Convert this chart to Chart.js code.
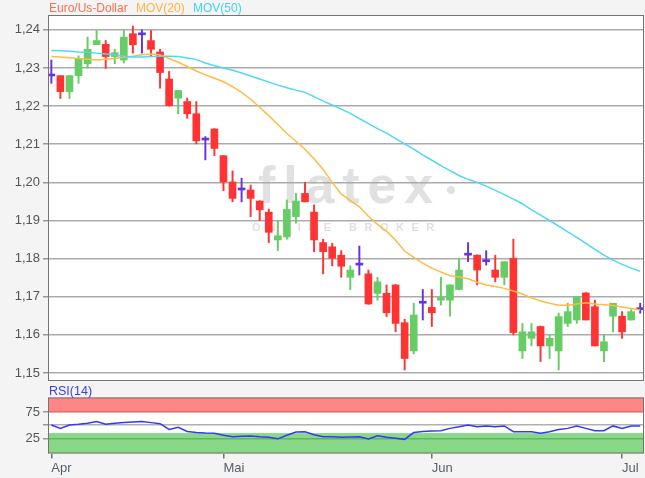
<!DOCTYPE html>
<html>
<head>
<meta charset="utf-8">
<script src="https://cdn.jsdelivr.net/npm/chart.js@4.4.1/dist/chart.umd.min.js"></script>
<style>
  html, body { margin: 0; padding: 0; background: #f4f4f4; }
  #wrap { position: relative; width: 645px; height: 478px; overflow: hidden; font-family: "Liberation Sans", Arial, sans-serif; }
  #mainBox { position: absolute; left: 0; top: 0; width: 645px; height: 395px; }
  #rsiBox { position: absolute; left: 0; top: 384px; width: 645px; height: 94px; }
  .lbl { position: absolute; font-size: 12px; white-space: nowrap; z-index: 2; }
</style>
</head>
<body>
<div id="wrap">
  <div id="mainBox"><canvas id="priceChart"></canvas></div>
  <div id="rsiBox"><canvas id="rsiChart"></canvas></div>
  <div class="lbl" style="left:49px;top:1px;color:#ff6e50">Euro/Us-Dollar</div>
  <div class="lbl" style="left:136px;top:1px;color:#ffb63a">MOV(20)</div>
  <div class="lbl" style="left:193px;top:1px;color:#3fd4f2">MOV(50)</div>
  <div class="lbl" style="left:49px;top:384px;color:#3b3bf0;font-size:12.5px">RSI(14)</div>
</div>
<script>
// Tageskerzen Apr - Jul (Index = Handelstag)
const monthTicks = [0, 19, 42, 63];
const monthNames = ['Apr', 'Mai', 'Jun', 'Jul'];
const priceTicks = [1.15, 1.16, 1.17, 1.18, 1.19, 1.20, 1.21, 1.22, 1.23, 1.24];
const rsiTicks = [25, 50, 75];

const open = [1.2279, 1.2280, 1.2238, 1.2280, 1.2311, 1.2361, 1.2362, 1.2330, 1.2321, 1.2390,
  1.2387, 1.2372, 1.2342, 1.2271, 1.2221, 1.2212, 1.2180, 1.2111, 1.2140, 1.2070,
  1.2001, 1.1980, 1.1980, 1.1951, 1.1922, 1.1849, 1.1857, 1.1910, 1.1971, 1.1922,
  1.1842, 1.1831, 1.1809, 1.1751, 1.1783, 1.1760, 1.1709, 1.1709, 1.1731, 1.1632,
  1.1558, 1.1683, 1.1672, 1.1691, 1.1691, 1.1719, 1.1809, 1.1809, 1.1792, 1.1770,
  1.1751, 1.1801, 1.1558, 1.1591, 1.1622, 1.1571, 1.1558, 1.1630, 1.1639, 1.1710,
  1.1674, 1.1558, 1.1649, 1.1649, 1.1639, 1.1666];
const high = [1.2321, 1.2280, 1.2280, 1.2332, 1.2381, 1.2398, 1.2372, 1.2349, 1.2400, 1.2410,
  1.2400, 1.2398, 1.2349, 1.2291, 1.2241, 1.2221, 1.2212, 1.2120, 1.2141, 1.2071,
  1.2030, 1.2011, 1.1993, 1.1952, 1.1930, 1.1900, 1.1954, 1.1971, 1.2000, 1.1941,
  1.1851, 1.1840, 1.1821, 1.1781, 1.1833, 1.1770, 1.1751, 1.1731, 1.1732, 1.1641,
  1.1683, 1.1719, 1.1719, 1.1751, 1.1731, 1.1801, 1.1842, 1.1810, 1.1821, 1.1809,
  1.1792, 1.1851, 1.1630, 1.1630, 1.1623, 1.1600, 1.1657, 1.1683, 1.1700, 1.1711,
  1.1691, 1.1600, 1.1683, 1.1661, 1.1666, 1.1683];
const low = [1.2260, 1.2220, 1.2220, 1.2260, 1.2300, 1.2361, 1.2299, 1.2311, 1.2313, 1.2339,
  1.2339, 1.2330, 1.2247, 1.2200, 1.2180, 1.2168, 1.2101, 1.2059, 1.2070, 1.1978,
  1.1949, 1.1949, 1.1910, 1.1900, 1.1842, 1.1821, 1.1851, 1.1893, 1.1949, 1.1818,
  1.1760, 1.1781, 1.1751, 1.1719, 1.1757, 1.1680, 1.1691, 1.1648, 1.1608, 1.1508,
  1.1550, 1.1639, 1.1622, 1.1678, 1.1649, 1.1718, 1.1792, 1.1731, 1.1783, 1.1739,
  1.1731, 1.1600, 1.1538, 1.1571, 1.1530, 1.1538, 1.1508, 1.1622, 1.1630, 1.1639,
  1.1571, 1.1530, 1.1608, 1.1591, 1.1639, 1.1657];
const close = [1.2279, 1.2238, 1.2280, 1.2324, 1.2349, 1.2372, 1.2330, 1.2340, 1.2381, 1.2361,
  1.2387, 1.2349, 1.2288, 1.2201, 1.2241, 1.2180, 1.2109, 1.2111, 1.2089, 1.2001,
  1.1958, 1.1980, 1.1958, 1.1928, 1.1869, 1.1860, 1.1929, 1.1951, 1.1949, 1.1849,
  1.1818, 1.1801, 1.1780, 1.1770, 1.1783, 1.1681, 1.1739, 1.1658, 1.1630, 1.1538,
  1.1652, 1.1683, 1.1658, 1.1698, 1.1731, 1.1770, 1.1809, 1.1770, 1.1792, 1.1751,
  1.1792, 1.1606, 1.1608, 1.1608, 1.1571, 1.1591, 1.1648, 1.1661, 1.1700, 1.1639,
  1.1571, 1.1582, 1.1683, 1.1608, 1.1661, 1.1666];

const mov20 = [1.2330, 1.2329, 1.2327, 1.2325, 1.2323, 1.2321, 1.2323, 1.2325, 1.2328, 1.2331,
  1.2335, 1.2337, 1.2334, 1.2325, 1.2315, 1.2304, 1.2292, 1.2282, 1.2273, 1.2264,
  1.2251, 1.2236, 1.2218, 1.2197, 1.2175, 1.2152, 1.2128, 1.2108, 1.2087, 1.2062,
  1.2034, 1.2000, 1.1969, 1.1953, 1.1936, 1.1911, 1.1890, 1.1872, 1.1848, 1.1820,
  1.1803, 1.1788, 1.1775, 1.1765, 1.1755, 1.1752, 1.1747, 1.1738, 1.1731, 1.1727,
  1.1722, 1.1715, 1.1707, 1.1697, 1.1689, 1.1683, 1.1678, 1.1678, 1.1681, 1.1684,
  1.1681, 1.1679, 1.1677, 1.1673, 1.1669, 1.1665];
const mov50 = [1.2346, 1.2345, 1.2344, 1.2342, 1.2341, 1.2339, 1.2337, 1.2334, 1.2331, 1.2329,
  1.2329, 1.2330, 1.2331, 1.2331, 1.2330, 1.2326, 1.2322, 1.2313, 1.2306, 1.2300,
  1.2294, 1.2287, 1.2279, 1.2271, 1.2263, 1.2255, 1.2248, 1.2242, 1.2236, 1.2225,
  1.2213, 1.2203, 1.2192, 1.2181, 1.2167, 1.2154, 1.2141, 1.2129, 1.2115, 1.2101,
  1.2087, 1.2072, 1.2058, 1.2044, 1.2031, 1.2018, 1.2008, 1.2000, 1.1990, 1.1979,
  1.1968, 1.1956, 1.1944, 1.1928, 1.1914, 1.1900, 1.1885, 1.1870, 1.1856, 1.1840,
  1.1824, 1.1809, 1.1796, 1.1785, 1.1775, 1.1767];
const rsi = [50.6, 44, 50.6, 52, 54, 57, 52, 54, 55, 56,
  57, 55, 53, 42, 46, 38, 36, 35, 34.6, 31,
  28, 29, 29.4, 28, 27, 24, 31, 37, 37.7, 32,
  28, 28, 27, 27.5, 28, 23.7, 30, 27, 25, 23,
  36, 38, 39, 39.6, 44, 47, 50.6, 47, 48.7, 47,
  48.7, 37.7, 37.7, 37.7, 34.6, 37.7, 42, 44, 48.7, 44,
  39.6, 39.6, 48.7, 44, 48.7, 48.7];

const FONT = '"Liberation Sans", Arial, sans-serif';
const RED = '#ff3333', GREEN = '#66cc66', PURPLE = '#6633dd';
const xMin = -0.37, xMax = 65.42;

// Farbe je Kerze: steigend gruen, fallend rot, unveraendert lila
const candleColors = close.map((c, i) => c > open[i] ? GREEN : (c < open[i] ? RED : PURPLE));
const xy = arr => arr.map((v, i) => ({ x: i, y: v }));

// Hintergrund, Baender, Wasserzeichen und Rahmen
const plotFrame = {
  id: 'plotFrame',
  beforeDraw(chart, args, opts) {
    const { ctx, chartArea: a } = chart;
    const y = chart.scales.y;
    ctx.save();
    ctx.fillStyle = '#ffffff';
    ctx.fillRect(a.left, a.top, a.width, a.height);
    (opts.bands || []).forEach(b => {
      const y1 = y.getPixelForValue(b.from);
      const y2 = y.getPixelForValue(b.to);
      ctx.fillStyle = b.color;
      ctx.fillRect(a.left, y2, a.width, y1 - y2);
    });
    if (opts.watermark) {
      ctx.fillStyle = '#e1e1e1';
      ctx.font = 'bold 52px ' + FONT;
      ctx.textBaseline = 'alphabetic';
      const w = ctx.measureText('flatex').width;
      ctx.letterSpacing = ((183 - w) / 6) + 'px';
      ctx.fillText('flatex', 258, 203);
      ctx.beginPath();
      ctx.arc(451, 190, 4, 0, Math.PI * 2);
      ctx.fill();
      ctx.fillStyle = '#e0e0e0';
      ctx.font = 'bold 11px ' + FONT;
      ctx.letterSpacing = '7.5px';
      ctx.fillText('ONLINE BROKER', 252, 231);
    }
    ctx.restore();
  },
  afterDraw(chart) {
    const { ctx, chartArea: a } = chart;
    ctx.save();
    ctx.strokeStyle = '#747474';
    ctx.lineWidth = 1;
    ctx.strokeRect(a.left + 0.5, a.top + 0.5, a.width - 1, a.height - 1);
    ctx.restore();
  }
};

new Chart(document.getElementById('priceChart'), {
  type: 'bar',
  data: {
    datasets: [
      { type: 'line', label: 'MOV(20)', data: xy(mov20), borderColor: '#ffbb44', borderWidth: 1.5, pointRadius: 0, order: 1 },
      { type: 'line', label: 'MOV(50)', data: xy(mov50), borderColor: '#4fd8f4', borderWidth: 1.5, pointRadius: 0, order: 0 },
      {
        label: 'Docht',
        data: low.map((l, i) => ({ x: i, y: [l, high[i]] })),
        backgroundColor: candleColors,
        barThickness: 1.3,
        grouped: false,
        order: 3
      },
      {
        label: 'Euro/Us-Dollar',
        data: open.map((o, i) => ({ x: i, y: [o, close[i]] })),
        backgroundColor: candleColors,
        barThickness: 7,
        minBarLength: 2,
        grouped: false,
        order: 2
      }
    ]
  },
  options: {
    responsive: true,
    maintainAspectRatio: false,
    animation: false,
    layout: { padding: { top: 15, right: 1, bottom: 14, left: 0 } },
    plugins: {
      legend: { display: false },
      tooltip: { enabled: false },
      plotFrame: { watermark: true }
    },
    scales: {
      x: { type: 'linear', min: xMin, max: xMax, offset: false, display: false },
      y: {
        min: 1.1479,
        max: 1.2439,
        afterFit: s => { s.width = 48; },
        afterBuildTicks: s => { s.ticks = priceTicks.map(v => ({ value: v })); },
        ticks: {
          callback: v => v.toFixed(2).replace('.', ','),
          color: '#555555',
          font: { family: FONT, size: 13 },
          padding: 3
        },
        grid: { color: '#ababab', lineWidth: 1.5, tickLength: 5, tickColor: '#999999' },
        border: { display: false }
      }
    }
  },
  plugins: [plotFrame]
});

new Chart(document.getElementById('rsiChart'), {
  type: 'line',
  data: {
    datasets: [
      { label: 'RSI(14)', data: xy(rsi), borderColor: '#3636ff', borderWidth: 1.5, pointRadius: 0 }
    ]
  },
  options: {
    responsive: true,
    maintainAspectRatio: false,
    animation: false,
    layout: { padding: { top: 13.5, right: 1, bottom: 0, left: 0 } },
    plugins: {
      legend: { display: false },
      tooltip: { enabled: false },
      plotFrame: { bands: [{ from: 75, to: 103, color: '#ff8686' }, { from: -4, to: 35, color: '#88d888' }] }
    },
    scales: {
      x: {
        type: 'linear',
        min: xMin,
        max: xMax,
        offset: false,
        afterFit: s => { s.height = 24.5; },
        afterBuildTicks: s => { s.ticks = monthTicks.map(v => ({ value: v })); },
        ticks: {
          callback: v => monthNames[monthTicks.indexOf(v)],
          align: 'start',
          autoSkip: false,
          maxRotation: 0,
          color: '#55606c',
          font: { family: FONT, size: 13 },
          padding: 2
        },
        grid: { drawOnChartArea: false, tickLength: 5, tickColor: '#707070', lineWidth: 1.5 },
        border: { display: false }
      },
      y: {
        min: -4,
        max: 103,
        afterFit: s => { s.width = 48; },
        afterBuildTicks: s => { s.ticks = rsiTicks.map(v => ({ value: v })); },
        ticks: {
          callback: v => v === 50 ? '' : String(v),
          color: '#555555',
          font: { family: FONT, size: 13 },
          padding: 3
        },
        grid: {
          color: c => c.tick && c.tick.value === 75 ? '#e26a6a' : (c.tick && c.tick.value === 25 ? '#5fb85f' : '#b0b0b0'),
          lineWidth: 1.5,
          tickLength: 5,
          tickColor: '#999999'
        },
        border: { display: false }
      }
    }
  },
  plugins: [plotFrame]
});
</script>
</body>
</html>
